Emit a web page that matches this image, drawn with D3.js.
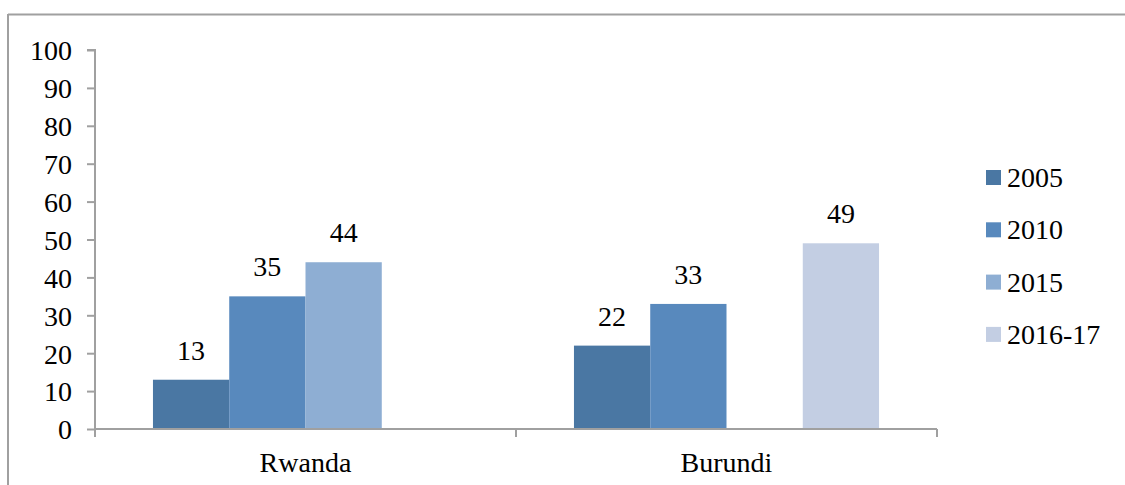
<!DOCTYPE html>
<html>
<head>
<meta charset="utf-8">
<script src="https://cdn.jsdelivr.net/npm/d3@7"></script>
<style>
  html, body { margin: 0; padding: 0; background: #fff; }
  svg { display: block; }
  text { font-family: "Liberation Serif", "Times New Roman", serif; fill: #000; }
</style>
</head>
<body>
<svg id="chart" width="1125" height="485"></svg>
<script>
const categories = ["Rwanda", "Burundi"];
const seriesNames = ["2005", "2010", "2015", "2016-17"];
const seriesColors = ["#4a77a3", "#5889bd", "#8eaed3", "#c3cee3"];
// values[series][category], null = no bar
const v2005 = [13, 22];
const v2010 = [35, 33];
const v2015 = [44, null];
const v2016_17 = [null, 49];
const yTicks = [0, 10, 20, 30, 40, 50, 60, 70, 80, 90, 100];

const seriesValues = [v2005, v2010, v2015, v2016_17];

const svg = d3.select("#chart");
const fontSize = 28;
const axisColor = "#a0a0a0";

// outer frame (top + left visible)
svg.append("line").attr("x1", 8).attr("x2", 1125).attr("y1", 14.5).attr("y2", 14.5)
  .attr("stroke", axisColor).attr("stroke-width", 2);
svg.append("line").attr("x1", 8).attr("x2", 8).attr("y1", 14).attr("y2", 485)
  .attr("stroke", axisColor).attr("stroke-width", 2);

const x0 = d3.scaleBand().domain(categories).range([95, 937]).paddingInner(0).paddingOuter(0);
const x1 = d3.scaleBand().domain(seriesNames).range([0, x0.bandwidth()]).paddingInner(0).paddingOuter(0.76);
const y = d3.scaleLinear().domain([0, 100]).range([429, 50]);

// bars
const g = svg.append("g");
categories.forEach((cat, ci) => {
  seriesNames.forEach((s, si) => {
    const val = seriesValues[si][ci];
    if (val == null) return;
    const bx = x0(cat) + x1(s);
    g.append("rect")
      .attr("x", bx).attr("y", y(val))
      .attr("width", x1.bandwidth()).attr("height", y(0) - y(val))
      .attr("fill", seriesColors[si]);
    g.append("text")
      .attr("x", bx + x1.bandwidth() / 2)
      .attr("y", y(val) - 20)
      .attr("text-anchor", "middle")
      .attr("font-size", fontSize)
      .text(val);
  });
});

// y axis
const yAxis = d3.axisLeft(y).tickValues(yTicks).tickSize(8).tickPadding(15).tickFormat(d3.format("d"));
const gy = svg.append("g").attr("transform", "translate(95,0)").call(yAxis);
gy.select(".domain").attr("stroke", axisColor).attr("stroke-width", 2).attr("d", `M-8,${y(100)}H0V${y(0)}`);
gy.selectAll(".tick line").attr("stroke", axisColor).attr("stroke-width", 2);
gy.selectAll(".tick text").attr("font-size", fontSize).attr("font-family", "Liberation Serif").attr("fill", "#000").attr("dy", "0.35em");

// x axis
const gx = svg.append("g").attr("transform", `translate(0,${y(0)})`);
gx.append("line").attr("x1", 95).attr("x2", 937).attr("y1", 0).attr("y2", 0)
  .attr("stroke", axisColor).attr("stroke-width", 2);
const xTickPos = [x0.range()[0]].concat(categories.map(c => x0(c) + x0.bandwidth()));
xTickPos.forEach(p => {
  gx.append("line").attr("x1", p).attr("x2", p).attr("y1", 0).attr("y2", 8)
    .attr("stroke", axisColor).attr("stroke-width", 2);
});
categories.forEach(c => {
  gx.append("text").attr("x", x0(c) + x0.bandwidth() / 2).attr("y", 43)
    .attr("text-anchor", "middle").attr("font-size", fontSize).text(c);
});

// legend
const lg = svg.append("g").attr("transform", "translate(986,170)");
seriesNames.forEach((s, i) => {
  const row = lg.append("g").attr("transform", `translate(0,${i * 52.3})`);
  row.append("rect").attr("width", 15).attr("height", 15).attr("fill", seriesColors[i]);
  row.append("text").attr("x", 21).attr("y", 17).attr("font-size", fontSize).text(s);
});
</script>
</body>
</html>
